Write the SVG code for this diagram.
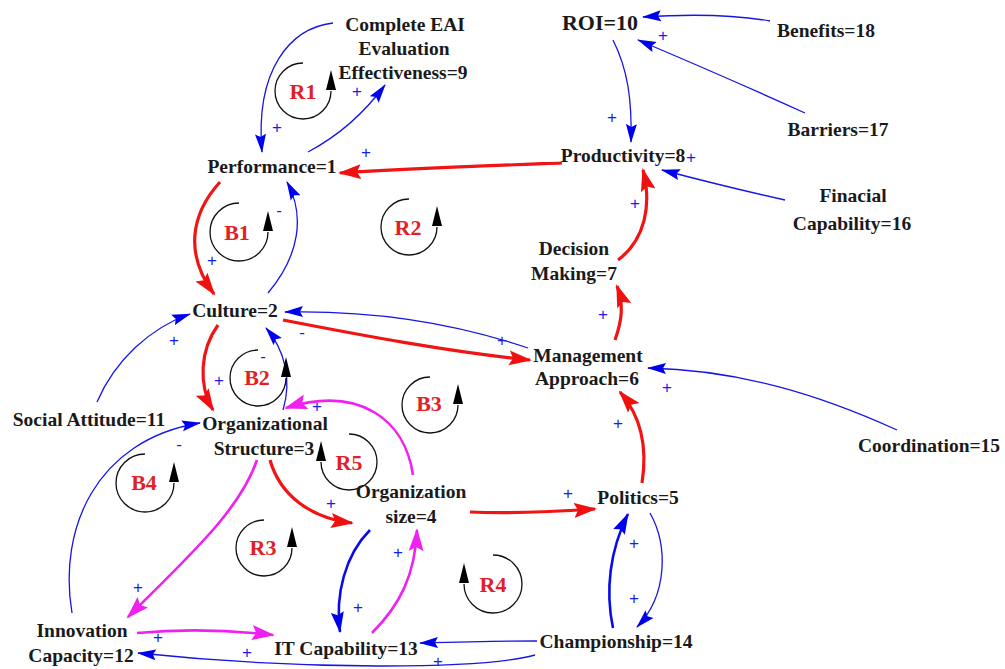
<svg xmlns="http://www.w3.org/2000/svg" xmlns:xlink="http://www.w3.org/1999/xlink" width="1005" height="669" viewBox="0 0 1005 669">
<style>
.n{font-family:"Liberation Serif","Times New Roman",serif;font-weight:bold;font-size:19.5px;fill:#1a1a1a;text-anchor:middle}
.lp{font-family:"Liberation Serif","Times New Roman",serif;font-weight:bold;font-size:22px;fill:#e41e26;text-anchor:middle}
.s{font-family:"Liberation Sans",Arial,sans-serif;font-size:17px;fill:#1a1aee;text-anchor:middle}
.b{fill:none;stroke:#1515e6;stroke-width:1.3}
.bt{fill:none;stroke:#0a0aee;stroke-width:2.6}
.r{fill:none;stroke:#f01414;stroke-width:3.2}
.m{fill:none;stroke:#f020f0;stroke-width:2.6}
.loop{fill:none;stroke:#111;stroke-width:1.3}
</style>
<defs>
<marker id="mb" markerUnits="userSpaceOnUse" markerWidth="20" markerHeight="12" refX="18" refY="6" orient="auto"><path d="M0,0.5 L19,6 L0,11.5 L3,6 z" fill="#0000ee"/></marker>
<marker id="mbt" markerUnits="userSpaceOnUse" markerWidth="22" markerHeight="14" refX="20" refY="7" orient="auto"><path d="M0,0.5 L21,7 L0,13.5 L3,7 z" fill="#0000ee"/></marker>
<marker id="mr" markerUnits="userSpaceOnUse" markerWidth="24" markerHeight="16" refX="21" refY="8" orient="auto"><path d="M0,0.5 L23,8 L0,15.5 L4,8 z" fill="#f01010"/></marker>
<marker id="mm" markerUnits="userSpaceOnUse" markerWidth="24" markerHeight="16" refX="21" refY="8" orient="auto"><path d="M0,0.5 L23,8 L0,15.5 L4,8 z" fill="#f020f0"/></marker>
<path id="la" d="M0,-21 L5,-1 L-5,-1 z" fill="#000"/>
</defs>
<rect width="1005" height="669" fill="#fff"/>

<g id="connectors">
<path class="b" d="M333,23 C290,28 255,70 262,152" marker-end="url(#mb)"/>
<path class="b" d="M308,152 C340,135 365,112 385,85" marker-end="url(#mb)"/>
<path class="b" d="M613,40 C628,70 632,100 631,142" marker-end="url(#mb)"/>
<path class="b" d="M770,21 C730,14 690,14 643,17" marker-end="url(#mb)"/>
<path class="b" d="M805,113 C750,88 690,62 638,40" marker-end="url(#mb)"/>
<path class="b" d="M785,200 C740,190 700,180 662,170" marker-end="url(#mb)"/>
<path class="r" d="M562,163 C480,166 420,168 340,173" marker-end="url(#mr)"/>
<path class="r" d="M618,260 C645,240 652,205 643,170" marker-end="url(#mr)"/>
<path class="r" d="M615,340 C622,320 624,305 617,286" marker-end="url(#mr)"/>
<path class="r" d="M220,182 C190,215 185,255 214,294" marker-end="url(#mr)"/>
<path class="b" d="M268,293 C300,255 305,215 287,182" marker-end="url(#mb)"/>
<path class="b" d="M528,348 C460,325 380,310 285,312" marker-end="url(#mb)"/>
<path class="r" d="M283,320 C360,335 450,352 530,360" marker-end="url(#mr)"/>
<path class="b" d="M97,402 C115,360 150,328 190,314" marker-end="url(#mb)"/>
<path class="r" d="M218,325 C200,350 198,385 213,410" marker-end="url(#mr)"/>
<path class="b" d="M283,410 C292,380 285,350 266,328" marker-end="url(#mb)"/>
<path class="b" d="M72,613 C58,530 95,440 200,423" marker-end="url(#mb)"/>
<path class="m" d="M257,460 C240,510 190,555 128,617" marker-end="url(#mm)"/>
<path class="r" d="M270,460 C280,495 310,518 352,523" marker-end="url(#mr)"/>
<path class="m" d="M413,475 C405,420 360,385 286,408" marker-end="url(#mm)"/>
<path class="r" d="M470,512 C510,514 550,512 595,509" marker-end="url(#mr)"/>
<path class="r" d="M642,483 C648,445 640,415 620,392" marker-end="url(#mr)"/>
<path class="b" d="M897,430 C820,395 740,370 648,368" marker-end="url(#mb)"/>
<path class="bt" d="M370,530 C345,555 335,595 340,632" marker-end="url(#mbt)"/>
<path class="m" d="M372,633 C400,605 415,575 417,530" marker-end="url(#mm)"/>
<path class="b" d="M650,513 C668,545 668,595 637,627" marker-end="url(#mb)"/>
<path class="bt" d="M613,628 C605,590 610,550 628,514" marker-end="url(#mbt)"/>
<path class="b" d="M537,641 C500,641 460,642 420,643" marker-end="url(#mb)"/>
<path class="b" d="M535,655 C480,670 300,670 138,653" marker-end="url(#mb)"/>
<path class="m" d="M137,633 C180,629 230,630 273,635" marker-end="url(#mm)"/>
</g>

<g id="polarities">
<text class="s" x="277" y="133">+</text>
<text class="s" x="357" y="97">+</text>
<text class="s" x="366" y="158">+</text>
<text class="s" x="612" y="123">+</text>
<text class="s" x="663" y="41">+</text>
<text class="s" x="691" y="163">+</text>
<text class="s" x="635" y="209">+</text>
<text class="s" x="603" y="320">+</text>
<text class="s" x="212" y="266">+</text>
<text class="s" x="279" y="216">-</text>
<text class="s" x="502" y="346">+</text>
<text class="s" x="302" y="338">-</text>
<text class="s" x="174" y="346">+</text>
<text class="s" x="219" y="386">+</text>
<text class="s" x="263" y="362">-</text>
<text class="s" x="179" y="450">-</text>
<text class="s" x="138" y="593">+</text>
<text class="s" x="331" y="509">+</text>
<text class="s" x="317" y="412">+</text>
<text class="s" x="568" y="499">+</text>
<text class="s" x="618" y="429">+</text>
<text class="s" x="667" y="393">+</text>
<text class="s" x="358" y="613">+</text>
<text class="s" x="398" y="558">+</text>
<text class="s" x="634" y="604">+</text>
<text class="s" x="634" y="549">+</text>
<text class="s" x="438" y="667">+</text>
<text class="s" x="247" y="658">+</text>
<text class="s" x="158" y="643">+</text>
</g>

<g id="loops">
<g id="R1"><path class="loop" d="M303,63 A28,28 0 1 0 331,91"/><use xlink:href="#la" x="331" y="91"/><text class="lp" x="303" y="99">R1</text></g>
<g id="B1"><path class="loop" d="M239,203 A29,29 0 1 0 268,232"/><use xlink:href="#la" x="268" y="232"/><text class="lp" x="237" y="240">B1</text></g>
<g id="R2"><path class="loop" d="M409,199 A28,28 0 1 0 437,227"/><use xlink:href="#la" x="437" y="227"/><text class="lp" x="408" y="235">R2</text></g>
<g id="B2"><path class="loop" d="M258,350 A28,28 0 1 0 286,378"/><use xlink:href="#la" x="286" y="378"/><text class="lp" x="257" y="385">B2</text></g>
<g id="B3"><path class="loop" d="M430,377 A28,28 0 1 0 458,405"/><use xlink:href="#la" x="458" y="405"/><text class="lp" x="429" y="411">B3</text></g>
<g id="B4"><path class="loop" d="M145,454 A29,29 0 1 0 174,483"/><use xlink:href="#la" x="174" y="483"/><text class="lp" x="144" y="490">B4</text></g>
<g id="R5"><path class="loop" d="M349,434 A28,28 0 1 1 321,462"/><use xlink:href="#la" x="321" y="462"/><text class="lp" x="349" y="470">R5</text></g>
<g id="R3"><path class="loop" d="M264,520 A28,28 0 1 0 292,548"/><use xlink:href="#la" x="292" y="548"/><text class="lp" x="263" y="555">R3</text></g>
<g id="R4"><path class="loop" d="M493,555 A29,29 0 1 1 464,584"/><use xlink:href="#la" x="464" y="584"/><text class="lp" x="493" y="592">R4</text></g>
</g>

<g id="n9"><text class="n" x="405" y="31">Complete EAI</text><text class="n" x="404" y="55">Evaluation</text><text class="n" x="403" y="79">Effectiveness=9</text></g>
<g id="n10"><text class="n" x="600" y="30" style="font-size:22px">ROI=10</text></g>
<g id="n18"><text class="n" x="826" y="37">Benefits=18</text></g>
<g id="n17"><text class="n" x="838" y="136">Barriers=17</text></g>
<g id="n8"><text class="n" x="623" y="162">Productivity=8</text></g>
<g id="n16"><text class="n" x="853" y="202">Finacial</text><text class="n" x="852" y="230">Capability=16</text></g>
<g id="n1"><text class="n" x="272" y="173">Performance=1</text></g>
<g id="n2"><text class="n" x="235" y="317">Culture=2</text></g>
<g id="n7"><text class="n" x="574" y="255">Decision</text><text class="n" x="574" y="280">Making=7</text></g>
<g id="n6"><text class="n" x="588" y="362">Management</text><text class="n" x="587" y="385">Approach=6</text></g>
<g id="n11"><text class="n" x="89" y="426">Social Attitude=11</text></g>
<g id="n3"><text class="n" x="265" y="430">Organizational</text><text class="n" x="264" y="455">Structure=3</text></g>
<g id="n4"><text class="n" x="411" y="498">Organization</text><text class="n" x="411" y="523">size=4</text></g>
<g id="n5"><text class="n" x="638" y="504">Politics=5</text></g>
<g id="n15"><text class="n" x="929" y="452">Coordination=15</text></g>
<g id="n12"><text class="n" x="82" y="637">Innovation</text><text class="n" x="81" y="662">Capacity=12</text></g>
<g id="n13"><text class="n" x="346" y="655">IT Capability=13</text></g>
<g id="n14"><text class="n" x="616" y="648">Championship=14</text></g>
</svg>
